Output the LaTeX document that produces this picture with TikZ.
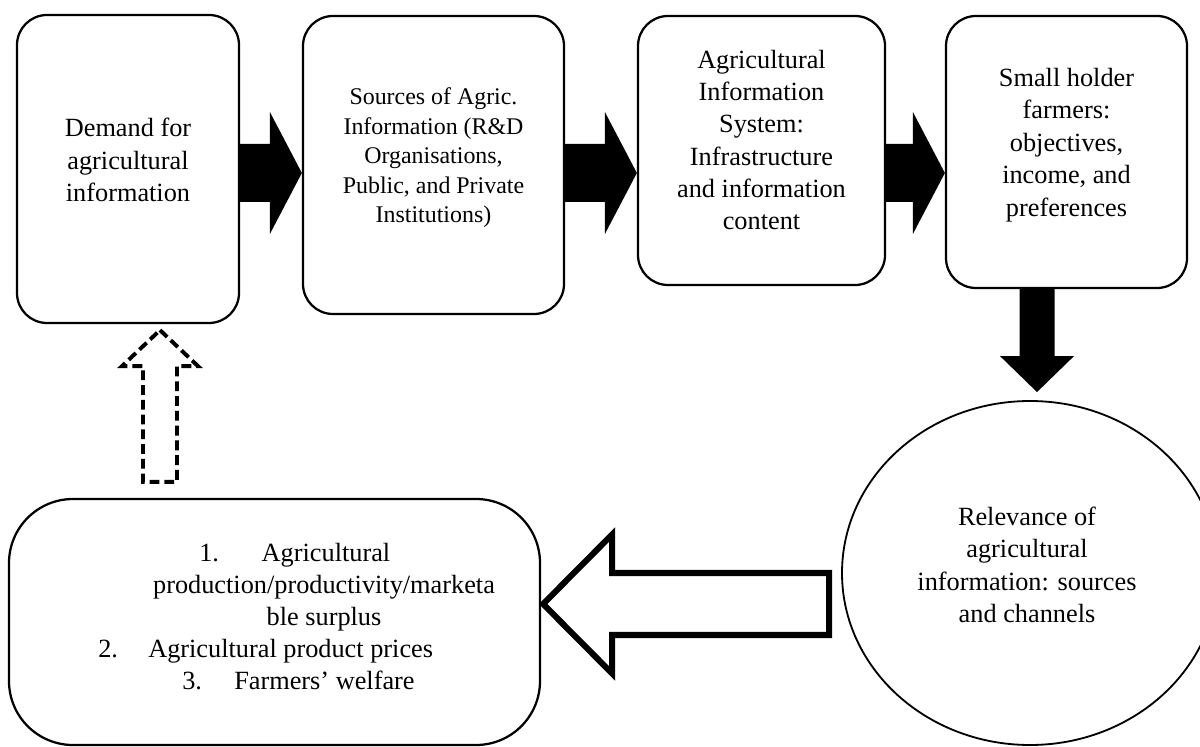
\documentclass[tikz,border=0pt]{standalone}
\usepackage{fontspec}
\setmainfont{Liberation Serif}
\usetikzlibrary{calc,shapes.geometric}

\def\px{0.025cm}
\tikzset{
	stage/.style={draw, line width=1.6pt, rounded corners=0.75cm, inner sep=0pt},
	stagetext/.style={align=center, inner sep=0pt, font=\fontsize{18.7}{23}\selectfont},
	itemtext/.style={inner sep=0pt, anchor=base, font=\fontsize{18.7}{23}\selectfont},
}
% solid black block arrows: (start)(tip)
\def\rightblock(#1)(#2){\fill ($(#1)+(0,-29)$) -- ($(#2)+(-32,-29)$) -- ($(#2)+(-32,-61)$) -- (#2) -- ($(#2)+(-32,61)$) -- ($(#2)+(-32,29)$) -- ($(#1)+(0,29)$) -- cycle;}
\def\downblock(#1)(#2){\fill ($(#1)+(-17.5,0)$) -- ($(#2)+(-17.5,-36)$) -- ($(#2)+(-37,-36)$) -- (#2) -- ($(#2)+(37,-36)$) -- ($(#2)+(17.5,-36)$) -- ($(#1)+(17.5,0)$) -- cycle;}

\begin{document}
\begin{tikzpicture}[x=\px, y=-\px]
	%%%%% START %%%%%
	\useasboundingbox (0,0) rectangle (1200,747);
	\clip (0,0) rectangle (1200,747);
	
	\coordinate (arrowrow) at (0,173);
	\coordinate (downcol) at (1037,0);
	\coordinate (hollowrow) at (0,604);
	\coordinate (feedbackcol) at (160,0);
	
	% top row
	\node[stage, minimum width=222*\px, minimum height=308*\px] (demand) at (128,169) {};
	\node[stagetext] (demandtxt) at (128,160) {Demand for\\agricultural\\information};
	
	\node[stage, minimum width=261*\px, minimum height=298*\px] (sources) at (433.5,165) {};
	\node[stagetext, font=\fontsize{17}{21}\selectfont] (sourcestxt) at (433.5,158) {Sources of Agric.\\Information (R\&D\\Organisations,\\Public, and Private\\Institutions)};
	
	\node[stage, minimum width=247*\px, minimum height=269*\px] (system) at (761.5,150.5) {};
	\node[stagetext] (systemtxt) at (761.5,140) {Agricultural\\Information\\System:\\Infrastructure\\and information\\content};
	
	\node[stage, minimum width=241*\px, minimum height=272*\px] (farmers) at (1066.5,152) {};
	\node[stagetext] (farmerstxt) at (1066.5,145) {Small holder\\farmers:\\objectives,\\income, and\\preferences};
	
	% circle
	\node[draw, ellipse, line width=1.3pt, inner sep=0pt, minimum width=376*\px, minimum height=344*\px] (relevance) at (1030,573) {};
	\node[stagetext] (relevancetxt) at (1027,565) {Relevance of\\agricultural\\information: sources\\and channels};
	
	% bottom box
	\node[stage, rounded corners=1.6cm, minimum width=531*\px, minimum height=246*\px] (outcomes) at (274.5,622) {};
	\node[itemtext, anchor=base west] (num1) at (199,561) {1.};
	\node[itemtext] (item1a) at (326,561) {Agricultural};
	\node[itemtext] (item1b) at (324,593) {production/productivity/marketa};
	\node[itemtext] (item1c) at (324,625) {ble surplus};
	\node[itemtext, anchor=base west] (num2) at (98,657) {2.};
	\node[itemtext, anchor=base west] (item2) at (148,657) {Agricultural product prices};
	\node[itemtext, anchor=base west] (num3) at (182,689) {3.};
	\node[itemtext, anchor=base west] (item3) at (234,689) {Farmers' welfare};
	
	% black arrows
	\rightblock(demand.east |- arrowrow)(sources.west |- arrowrow)
	\rightblock(sources.east |- arrowrow)(system.west |- arrowrow)
	\rightblock(system.east |- arrowrow)(farmers.west |- arrowrow)
	\coordinate (downtip) at ($(relevance.north -| downcol)+(0,-8)$);
	\downblock(farmers.south -| downcol)(downtip)
	
	% hollow arrow
	\coordinate (hollowtip) at ($(outcomes.east |- hollowrow)+(2,0)$);
	\coordinate (hollowtail) at ($(relevance.west |- hollowrow)+(-12,0)$);
	\draw[line width=4.3pt, line join=miter, fill=white] (hollowtip) -- ($(hollowtip)+(69,-69.5)$) -- ($(hollowtip)+(69,-31)$) -- ($(hollowtail)+(0,-31)$) -- ($(hollowtail)+(0,31)$) -- ($(hollowtip)+(69,31)$) -- ($(hollowtip)+(69,69.5)$) -- cycle;
	
	% dashed feedback arrow
	\coordinate (backtip) at ($(demand.south -| feedbackcol)+(0,6)$);
	\coordinate (backbase) at ($(outcomes.north -| feedbackcol)+(0,-16)$);
	\draw[line width=2.8pt, dash pattern=on 7pt off 3.5pt] (backtip) -- ($(backtip)+(38,36)$) -- ($(backtip)+(17,36)$) -- ($(backbase)+(17,0)$) -- ($(backbase)+(-17,0)$) -- ($(backtip)+(-17,36)$) -- ($(backtip)+(-38,36)$) -- cycle;
	
	%%%%% END %%%%%
\end{tikzpicture}
\end{document}
